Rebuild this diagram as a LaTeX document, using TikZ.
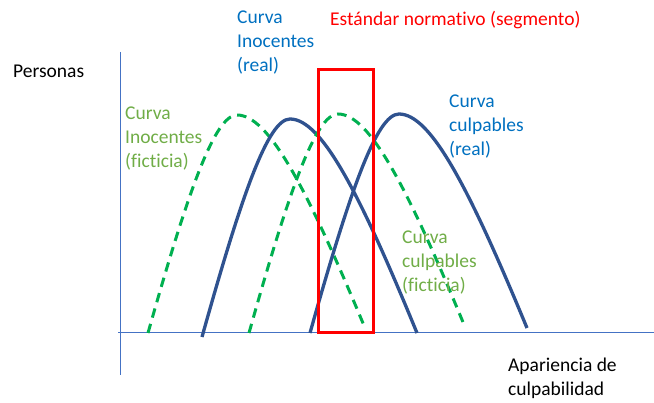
\documentclass[tikz,border=0pt]{standalone}
\usepackage{fontspec}
\setmainfont{Carlito}[Ligatures=CommonOff]
\definecolor{axisblue}{RGB}{68,114,196}
\definecolor{curveblue}{RGB}{47,82,143}
\definecolor{dashgreen}{RGB}{0,176,80}
\definecolor{txtgreen}{RGB}{112,173,71}
\definecolor{txtblue}{RGB}{0,112,192}
\definecolor{rectred}{RGB}{255,0,0}
\newcommand\mylines[1]{\begin{tabular}[t]{@{}l@{}}#1\end{tabular}}
\tikzset{
  lbl/.style={anchor=base west, inner sep=0pt, font=\fontsize{19.5}{24}\selectfont},
  axisline/.style={draw=axisblue, line width=1pt},
  realcurve/.style={draw=curveblue, line width=3.3pt},
  fictcurve/.style={draw=dashgreen, line width=3pt, dash pattern=on 9.5pt off 6.5pt},
  segbox/.style={draw=rectred, line width=3pt}
}
\begin{document}
\begin{tikzpicture}[x=1pt, y=-1pt]
\useasboundingbox (0,0) rectangle (654,403);
% axes
\coordinate (ytop) at (120,52);
\coordinate (ybot) at (120,375);
\coordinate (xleft) at (118,333);
\coordinate (xright) at (654,333);
\draw[axisline] (ytop) -- (ybot);
\draw[axisline] (xleft) -- (xright);
% curves
\draw[fictcurve] (148,333) .. controls (188,191.3) and (214.8,115) .. (237,115)
  .. controls (269,115) and (307.4,189.6) .. (365,328);
\draw[realcurve] (202,337) .. controls (241.6,195.3) and (268,119) .. (290,119)
  .. controls (321.75,119) and (359.9,193.9) .. (417,333);
\draw[fictcurve] (249,333) .. controls (289.05,190.65) and (315.75,114) .. (338,114)
  .. controls (369.75,114) and (407.85,188.55) .. (465,327);
\draw[realcurve] (310,333) .. controls (350.05,190.65) and (376.75,114) .. (399,114)
  .. controls (431,114) and (469.4,188.9) .. (527,328);
% normative segment
\coordinate (segA) at (318,70);
\coordinate (segB) at (373,333);
\draw[segbox] (segA) rectangle (segB);
% labels
\node[lbl] (personas) at (13,78) {Personas};
\node[lbl, text=txtblue] (inoreal) at (237,24) {\mylines{Curva\\Inocentes\\(real)}};
\node[lbl, text=rectred] (estandar) at (330,26) {Estándar normativo (segmento)};
\node[lbl, text=txtgreen] (inofict) at (125,120) {\mylines{Curva\\Inocentes\\(ficticia)}};
\node[lbl, text=txtblue] (culreal) at (449,108) {\mylines{Curva\\culpables\\(real)}};
\node[lbl, text=txtgreen] (culfict) at (402,244) {\mylines{Curva\\culpables\\(ficticia)}};
\node[lbl] (apariencia) at (508,372) {\mylines{Apariencia de\\culpabilidad}};
\end{tikzpicture}
\end{document}
